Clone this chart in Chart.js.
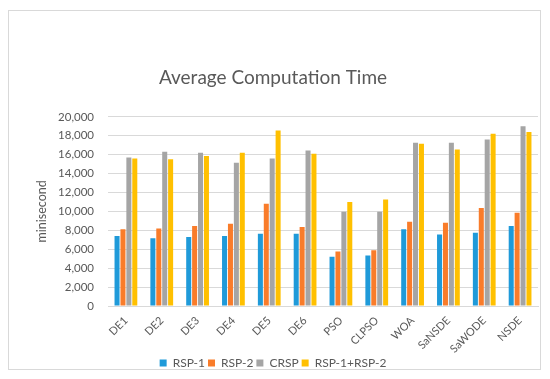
<!DOCTYPE html>
<html>
<head>
<meta charset="utf-8">
<script src="https://cdn.jsdelivr.net/npm/chart.js@4"></script>
<style>
  html, body { margin: 0; padding: 0; background: #fff; }
  #wrap { width: 550px; height: 379px; position: relative; }
</style>
</head>
<body>
<div id="wrap"><canvas id="chart"></canvas></div>
<script>
const categories = ["DE1", "DE2", "DE3", "DE4", "DE5", "DE6", "PSO", "CLPSO", "WOA", "SaNSDE", "SaWODE", "NSDE"];
const rsp1 = [7400, 7150, 7300, 7400, 7650, 7650, 5200, 5350, 8100, 7550, 7750, 8450];
const rsp2 = [8100, 8200, 8450, 8700, 10800, 8350, 5750, 5900, 8900, 8800, 10350, 9850];
const crsp = [15700, 16300, 16200, 15150, 15600, 16450, 9950, 9950, 17250, 17250, 17600, 19000];
const rspBoth = [15600, 15500, 15850, 16200, 18550, 16100, 11000, 11250, 17150, 16550, 18200, 18400];

Chart.defaults.font.family = "Lato";
Chart.defaults.color = "#595959";

// light grey frame round the whole chart, like the Excel chart border
const frame = {
  id: "frame",
  beforeDraw(chart) {
    const c = chart.ctx;
    c.save();
    c.strokeStyle = "#d9d9d9";
    c.lineWidth = 1;
    c.strokeRect(8.5, 10.5, 532, 359);
    c.restore();
  }
};

new Chart(document.getElementById("chart"), {
  type: "bar",
  data: {
    labels: categories,
    datasets: [
      { label: "RSP-1", data: rsp1, backgroundColor: "#1f9ad9" },
      { label: "RSP-2", data: rsp2, backgroundColor: "#f97c2a" },
      { label: "CRSP", data: crsp, backgroundColor: "#a5a5a5" },
      { label: "RSP-1+RSP-2", data: rspBoth, backgroundColor: "#ffc000" }
    ]
  },
  options: {
    responsive: true,
    maintainAspectRatio: false,
    animation: false,
    datasets: {
      bar: { categoryPercentage: 0.66, barPercentage: 0.85 }
    },
    layout: {
      padding: { top: 66, left: 8, right: 12, bottom: 0 }
    },
    plugins: {
      title: {
        display: true,
        text: "Average Computation Time",
        color: "#595959",
        font: { size: 19, weight: "normal" },
        padding: { top: 0, bottom: 28 }
      },
      legend: {
        position: "bottom",
        labels: {
          boxWidth: 7,
          boxHeight: 7,
          padding: 3,
          font: { size: 12 },
          color: "#595959"
        }
      },
      tooltip: { enabled: false }
    },
    scales: {
      x: {
        afterFit(scale) { scale.height = 48; },
        grid: { display: false },
        border: { color: "#d9d9d9" },
        ticks: {
          minRotation: 45,
          maxRotation: 45,
          padding: 0,
          font: { size: 11 },
          color: "#595959"
        }
      },
      y: {
        min: 0,
        max: 20000,
        afterFit(scale) { scale.width = 100; },
        grid: { color: "#d9d9d9", drawTicks: false },
        border: { display: false },
        ticks: {
          stepSize: 2000,
          padding: 14,
          font: { size: 11.5 },
          color: "#595959",
          callback: v => v.toLocaleString("en-US")
        },
        title: {
          display: true,
          text: "minisecond",
          font: { size: 12.5 },
          color: "#595959",
          padding: { top: 26, bottom: 6 }
        }
      }
    }
  },
  plugins: [frame]
});
</script>
</body>
</html>
